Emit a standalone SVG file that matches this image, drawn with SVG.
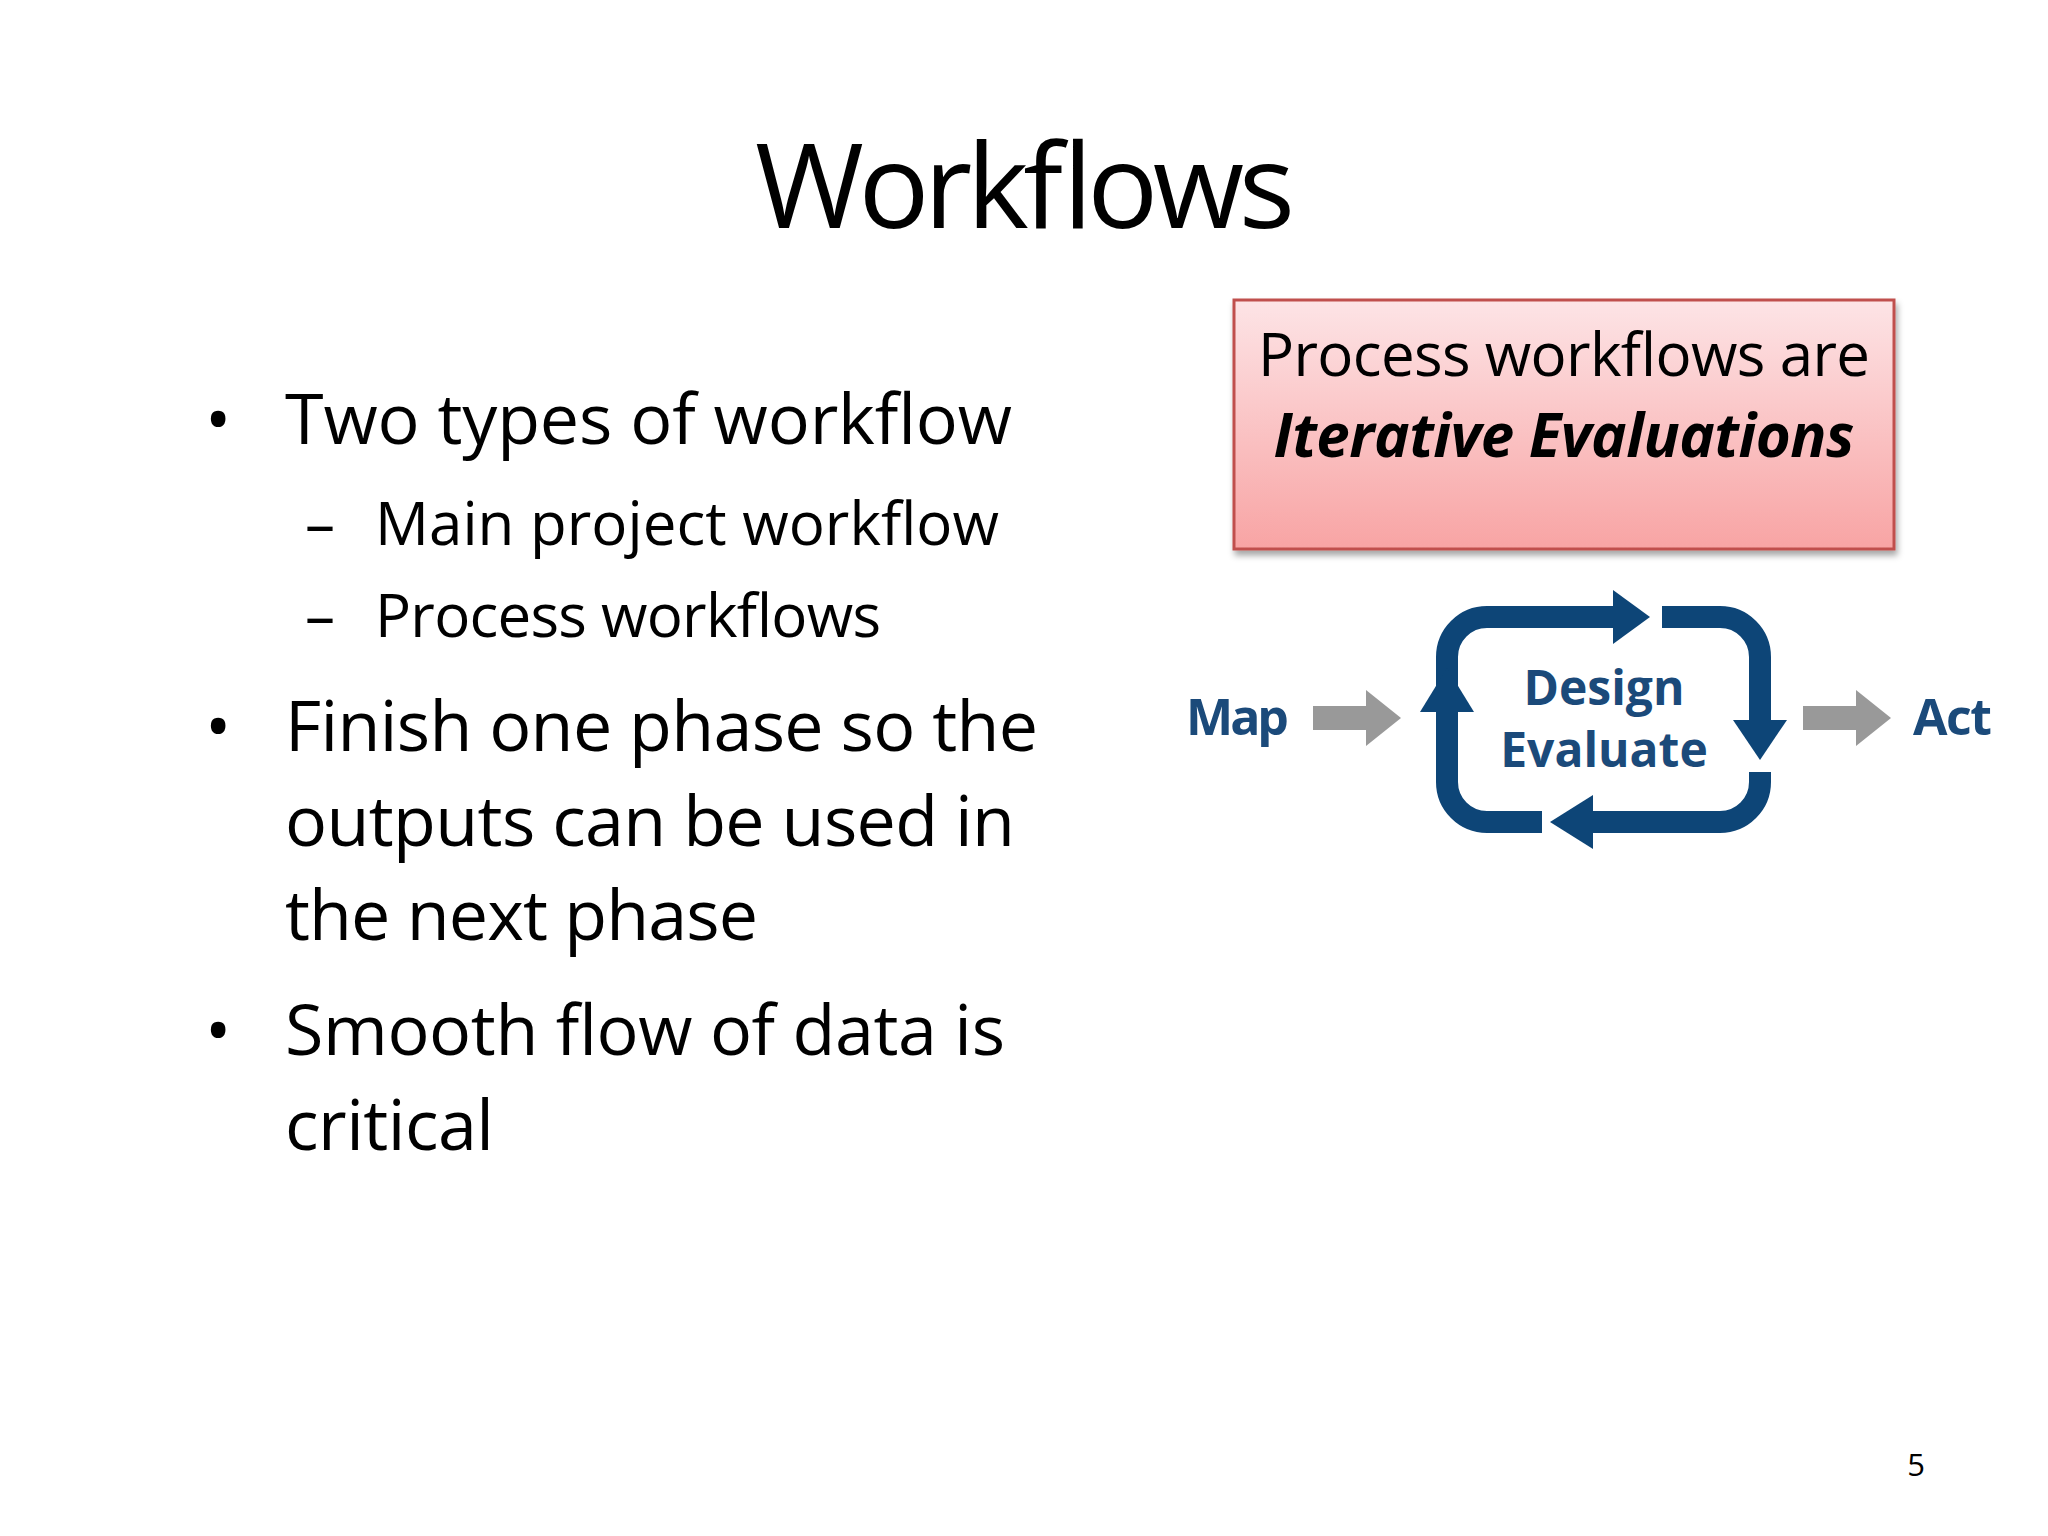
<svg xmlns="http://www.w3.org/2000/svg" width="2048" height="1536" viewBox="0 0 2048 1536">
<defs>
<linearGradient id="pk" x1="0" y1="0" x2="0" y2="1"><stop offset="0" stop-color="#fde4e6"/><stop offset="1" stop-color="#f8a4a4"/></linearGradient>
<filter id="sh" x="-5%" y="-5%" width="110%" height="120%"><feDropShadow dx="2" dy="5" stdDeviation="3" flood-opacity="0.35"/></filter>
<style>
.t{font-family:"Open Sans","Liberation Sans",sans-serif;fill:#000}
.b{font-size:70px}.s{font-size:60px}
.bl{font-family:"Open Sans","Liberation Sans",sans-serif;font-weight:bold;fill:#1b4a7a}
.cy{fill:none;stroke:#0d4577;stroke-width:22}
.hd{fill:#0d4577}
.gr{fill:#999}
</style>
</defs>
<rect width="2048" height="1536" fill="#fff"/>
<text class="t" x="1025" y="228" font-size="118" text-anchor="middle" textLength="540">Workflows</text>
<g id="bullets">
<text class="t b" x="205" y="444">•</text>
<text class="t b" x="285" y="444" textLength="727">Two types of workflow</text>
<text class="t s" x="305" y="545">–</text>
<text class="t s" x="375" y="545" textLength="624">Main project workflow</text>
<text class="t s" x="305" y="637">–</text>
<text class="t s" x="375" y="637" textLength="506">Process workflows</text>
<text class="t b" x="205" y="751">•</text>
<text class="t b" x="285" y="751" textLength="753">Finish one phase so the</text>
<text class="t b" x="285" y="846" textLength="730">outputs can be used in</text>
<text class="t b" x="285" y="940" textLength="473">the next phase</text>
<text class="t b" x="205" y="1055">•</text>
<text class="t b" x="285" y="1055" textLength="720">Smooth flow of data is</text>
<text class="t b" x="285" y="1150" textLength="209">critical</text>
</g>
<g id="callout">
<rect x="1234" y="300" width="660" height="249" fill="url(#pk)" stroke="#c0504d" stroke-width="3" filter="url(#sh)"/>
<text class="t" x="1564" y="376" font-size="60" text-anchor="middle" textLength="612">Process workflows are</text>
<text class="t" x="1564" y="457" font-size="60" font-weight="bold" font-style="italic" text-anchor="middle" textLength="581">Iterative Evaluations</text>
</g>
<g id="cycle">
<path class="cy" d="M1447,700 V657 A40,40 0 0 1 1487,617 H1616"/>
<polygon class="hd" points="1613,590 1650,617 1613,644"/>
<path class="cy" d="M1662,617 H1720 A40,40 0 0 1 1760,657 V722"/>
<polygon class="hd" points="1733,720 1760,760 1787,720"/>
<path class="cy" d="M1760,772 V782 A40,40 0 0 1 1720,822 H1590"/>
<polygon class="hd" points="1593,795 1550,822 1593,849"/>
<path class="cy" d="M1542,822 H1487 A40,40 0 0 1 1447,782 V708"/>
<polygon class="hd" points="1420,712 1447,668 1474,712"/>
<text class="bl" x="1604" y="705" font-size="48" text-anchor="middle">Design</text>
<text class="bl" x="1604" y="767" font-size="48" text-anchor="middle">Evaluate</text>
</g>
<g id="map"><text class="bl" x="1186" y="735" font-size="50" textLength="103">Map</text></g>
<g id="act"><text class="bl" x="1913" y="735" font-size="50" textLength="79">Act</text></g>
<g id="connectors">
<polygon class="gr" points="1313,706 1366,706 1366,690 1401,718 1366,746 1366,730 1313,730"/>
<polygon class="gr" points="1803,706 1856,706 1856,690 1891,718 1856,746 1856,730 1803,730"/>
</g>
<text class="t" x="1916" y="1476" font-size="31" text-anchor="middle">5</text>
</svg>
